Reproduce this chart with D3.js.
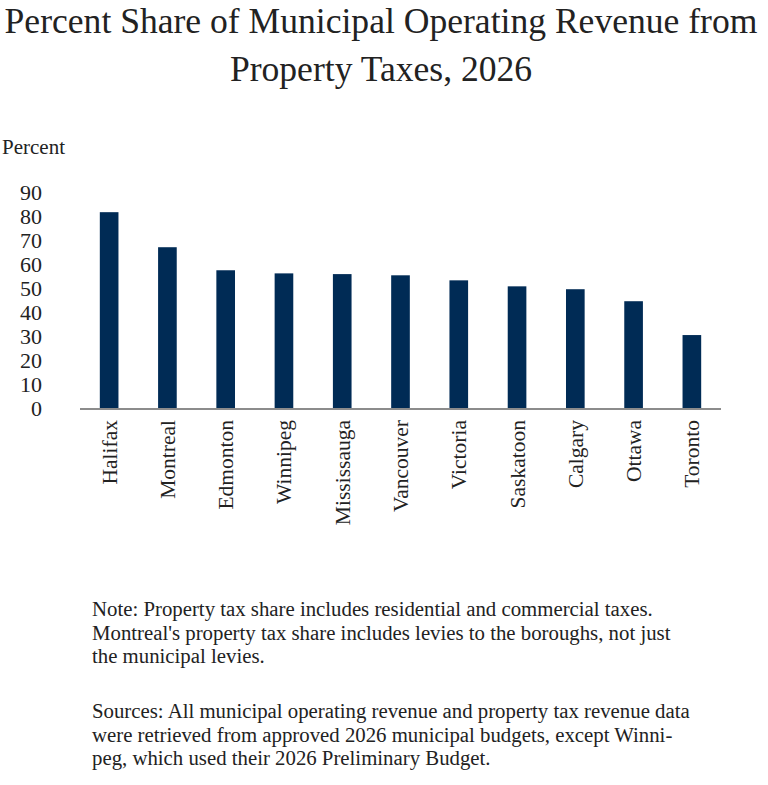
<!DOCTYPE html>
<html>
<head>
<meta charset="utf-8">
<script src="https://cdn.jsdelivr.net/npm/d3@7"></script>
<style>
  body { margin: 0; background: #fff; }
  text { font-family: "Liberation Serif", "DejaVu Serif", serif; fill: #222; }
</style>
</head>
<body>
<div id="chart"></div>
<script>
// Données
const cities = ["Halifax", "Montreal", "Edmonton", "Winnipeg", "Mississauga", "Vancouver",
                "Victoria", "Saskatoon", "Calgary", "Ottawa", "Toronto"];
const shares = [81.8, 67.2, 57.6, 56.3, 56.0, 55.5, 53.4, 50.9, 49.7, 44.7, 30.6];
const yTicks = [0, 10, 20, 30, 40, 50, 60, 70, 80, 90];

const titleLines = ["Percent Share of Municipal Operating Revenue from", "Property Taxes, 2026"];
const noteLines = [
  "Note: Property tax share includes residential and commercial taxes.",
  "Montreal's property tax share includes levies to the boroughs, not just",
  "the municipal levies."
];
const sourceLines = [
  "Sources: All municipal operating revenue and property tax revenue data",
  "were retrieved from approved 2026 municipal budgets, except Winni-",
  "peg, which used their 2026 Preliminary Budget."
];

const width = 768, height = 785;
const plot = { left: 80, right: 721, top: 192.5, bottom: 408.5 };

const svg = d3.select("#chart").append("svg")
    .attr("width", width)
    .attr("height", height);

// Titre
svg.selectAll(".title")
    .data(titleLines)
    .enter()
    .append("text")
    .attr("class", "title")
    .attr("x", 381)
    .attr("y", (d, i) => 33 + i * 48)
    .attr("text-anchor", "middle")
    .style("font-size", "35.6px")
    .text(d => d);

// Libellé de l'axe Y
svg.append("text")
    .attr("x", 2)
    .attr("y", 154)
    .style("font-size", "21px")
    .text("Percent");

const x = d3.scaleBand()
    .domain(cities)
    .range([plot.left, plot.right])
    .paddingInner(0.68)
    .paddingOuter(0.34);

const y = d3.scaleLinear()
    .domain([0, 90])
    .range([plot.bottom, plot.top]);

// Graduations Y (sans ligne d'axe)
svg.selectAll(".ytick")
    .data(yTicks)
    .enter()
    .append("text")
    .attr("class", "ytick")
    .attr("x", 42)
    .attr("y", d => y(d))
    .attr("dy", "0.33em")
    .attr("text-anchor", "end")
    .style("font-size", "22px")
    .text(d => d);

// Barres
svg.selectAll("rect.bar")
    .data(cities)
    .enter()
    .append("rect")
    .attr("class", "bar")
    .attr("x", d => x(d))
    .attr("y", (d, i) => y(shares[i]))
    .attr("width", x.bandwidth())
    .attr("height", (d, i) => y(0) - y(shares[i]))
    .attr("fill", "#002b55");

// Ligne de base
svg.append("line")
    .attr("x1", plot.left)
    .attr("x2", plot.right)
    .attr("y1", y(0) + 0.5)
    .attr("y2", y(0) + 0.5)
    .attr("stroke", "#8c8c8c")
    .attr("stroke-width", 2);

// Noms des villes, tournés
svg.selectAll(".xlabel")
    .data(cities)
    .enter()
    .append("text")
    .attr("class", "xlabel")
    .attr("transform", d => `translate(${x(d) + x.bandwidth() / 2},420) rotate(-90)`)
    .attr("dy", "0.35em")
    .attr("text-anchor", "end")
    .style("font-size", "21.5px")
    .text(d => d);

// Notes et sources
svg.selectAll(".note")
    .data(noteLines)
    .enter()
    .append("text")
    .attr("class", "note")
    .attr("x", 92)
    .attr("y", (d, i) => 616 + i * 23.5)
    .style("font-size", "20.8px")
    .text(d => d);

svg.selectAll(".source")
    .data(sourceLines)
    .enter()
    .append("text")
    .attr("class", "source")
    .attr("x", 92)
    .attr("y", (d, i) => 718 + i * 23.5)
    .style("font-size", "20.8px")
    .text(d => d);
</script>
</body>
</html>
